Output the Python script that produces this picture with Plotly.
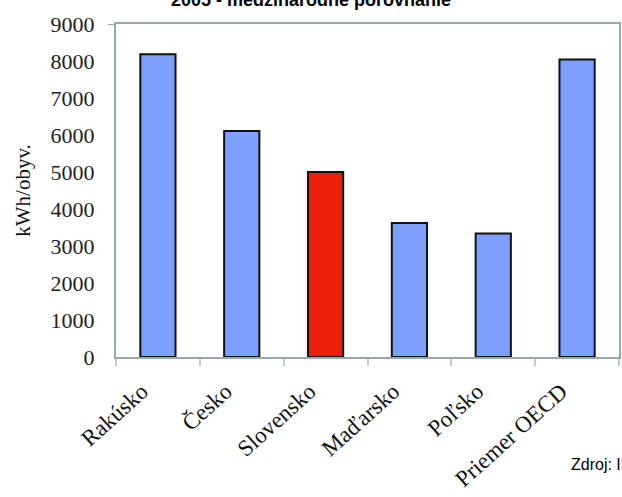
import plotly.graph_objects as go

categories = ["Rakúsko", "Česko", "Slovensko", "Maďarsko", "Poľsko", "Priemer OECD"]
values = [8180, 6110, 5000, 3620, 3340, 8040]
bar_colors = ["#7f9fff", "#7f9fff", "#ec1f08", "#7f9fff", "#7f9fff", "#7f9fff"]
y_ticks = [0, 1000, 2000, 3000, 4000, 5000, 6000, 7000, 8000, 9000]
title_text = "2005 - medzinárodné porovnanie"
y_title = "kWh/obyv."
source_text = "Zdroj: IEA"

axis_color = "#93abb0"

fig = go.Figure()
fig.add_trace(go.Bar(
    x=categories, y=values,
    marker=dict(color=bar_colors, line=dict(color="#111111", width=2)),
    width=0.42,
    showlegend=False,
))

fig.update_layout(
    width=622, height=497,
    margin=dict(l=116, r=3, t=24, b=140, autoexpand=False),
    paper_bgcolor="white", plot_bgcolor="white",
    xaxis=dict(
        type="category", range=[-0.5, 5.5], automargin=False,
        showline=True, linecolor=axis_color, linewidth=2, mirror=True,
        ticks="outside", tickson="boundaries", ticklen=7, tickcolor="#c3cbce", tickwidth=1.5,
        tickangle=-42, ticklabelshift=-16, ticklabelstandoff=10,
        tickfont=dict(family="Liberation Serif", size=23, color="#111111"),
        showgrid=False, zeroline=False,
    ),
    yaxis=dict(
        range=[0, 9000], tickvals=y_ticks, automargin=False,
        showline=True, linecolor=axis_color, linewidth=2, mirror=True,
        ticks="", ticklabelstandoff=15,
        tickfont=dict(family="Liberation Serif", size=22, color="#222222"),
        title=dict(text=y_title, font=dict(family="Liberation Serif", size=21, color="#111111"), standoff=14),
        showgrid=False, zeroline=False,
    ),
    shapes=[dict(type="line", xref="paper", yref="y", x0=-0.016, x1=0, y0=9000, y1=9000,
                 line=dict(color=axis_color, width=2))],
    annotations=[
        dict(text=title_text, xref="paper", yref="paper", x=0.388, y=1, yshift=24,
             xanchor="center", yanchor="middle", showarrow=False,
             font=dict(family="Liberation Sans", size=18, color="black", weight="bold")),
        dict(text=source_text, xref="paper", yref="paper", x=0.9006, y=-0.324,
             xanchor="left", yanchor="middle", showarrow=False,
             font=dict(family="Liberation Sans", size=16, color="black")),
    ],
)

fig.write_html("out.html", config={"displayModeBar": False},
               post_script="document.body.style.margin='0';document.body.style.overflow='hidden';")
